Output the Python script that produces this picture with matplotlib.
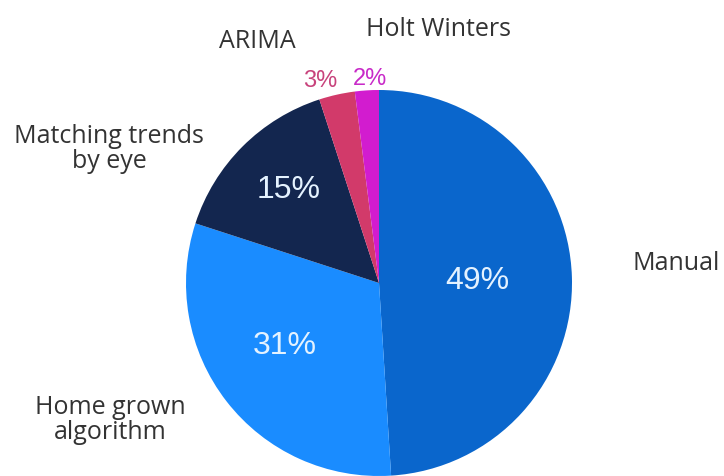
import matplotlib.pyplot as plt

# data
labels = ['Manual', 'Home grown\nalgorithm', 'Matching trends\nby eye', 'ARIMA', 'Holt Winters']
shares = [49, 31, 15, 3, 2]
colors = ['#0a66cc', '#1a8cff', '#13264f', '#d23a6a', '#d21ccf']
pct_colors = ['#e4f2ff', '#e4f2ff', '#e4f2ff', '#c8437c', '#c82ac8']

# label placement (pixels, origin top-left)
label_pos = [(676, 264), (110, 420), (109, 149), (257, 41), (438, 30)]
pct_pos = [(477, 281), (285, 346), (289, 190), (320, 81), (370, 79)]

W, H = 724, 477
fig = plt.figure(figsize=(W / 100, H / 100), dpi=100)
ax = fig.add_axes([0, 0, 1, 1])

cx, cy, r = 379, H - 284, 193
ax.pie(shares, colors=colors, startangle=90, counterclock=False,
       center=(cx, cy), radius=r, frame=True,
       wedgeprops=dict(linewidth=0))
ax.set_xlim(0, W)
ax.set_ylim(0, H)
ax.set_aspect('equal')
ax.axis('off')

for lab, (x, y) in zip(labels, label_pos):
    ax.text(x, H - y, lab, ha='center', va='center', fontsize=18,
            family='Open Sans', color='#333333', linespacing=1.0)

for s, c, (x, y) in zip(shares, pct_colors, pct_pos):
    big = s > 10
    ax.text(x, H - y, str(s) + '%', ha='center', va='center',
            fontsize=23 if big else 17, family='Liberation Sans', color=c)

fig.savefig('out.png', dpi=100)
